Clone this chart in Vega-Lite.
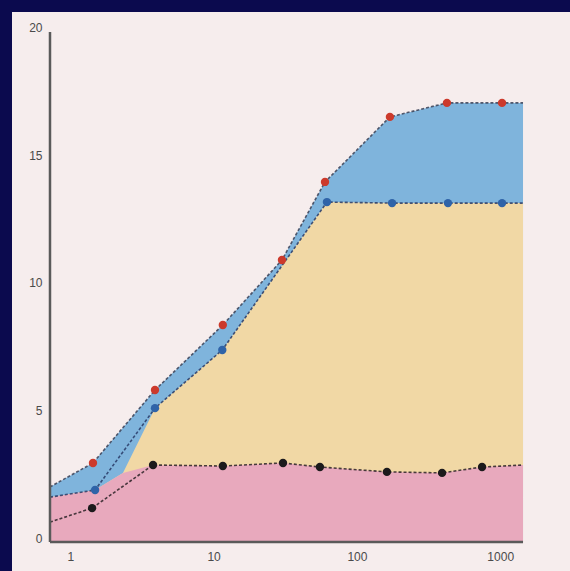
{
  "$schema": "https://vega.github.io/schema/vega-lite/v6.json",
  "width": 558,
  "height": 559,
  "autosize": {"type": "none"},
  "padding": {"top": 12, "left": 12, "right": 0, "bottom": 0},
  "background": "#0b0a4e",
  "config": {
    "view": {"stroke": null, "fill": "#f6eded"},
    "axis": {"labelFont": "Liberation Sans", "labelFontSize": 12, "labelColor": "#4a4a4a", "grid": false}
  },
  "datasets": {
    "fills": [
      {"layer": "blue", "x": 0.7218, "y": 2.16},
      {"layer": "blue", "x": 1.44, "y": 3.10},
      {"layer": "blue", "x": 3.90, "y": 5.96},
      {"layer": "blue", "x": 11.6, "y": 8.51},
      {"layer": "blue", "x": 30.0, "y": 11.06},
      {"layer": "blue", "x": 59.9, "y": 14.12},
      {"layer": "blue", "x": 170, "y": 16.67},
      {"layer": "blue", "x": 425, "y": 17.22},
      {"layer": "blue", "x": 1030, "y": 17.22},
      {"layer": "blue", "x": 1443, "y": 17.22},
      {"layer": "yellow", "x": 0.7218, "y": 1.76},
      {"layer": "yellow", "x": 1.49, "y": 2.04},
      {"layer": "yellow", "x": 2.33, "y": 2.71},
      {"layer": "yellow", "x": 3.90, "y": 5.25},
      {"layer": "yellow", "x": 11.5, "y": 7.53},
      {"layer": "yellow", "x": 61.8, "y": 13.33},
      {"layer": "yellow", "x": 176, "y": 13.29},
      {"layer": "yellow", "x": 432, "y": 13.29},
      {"layer": "yellow", "x": 1030, "y": 13.29},
      {"layer": "yellow", "x": 1443, "y": 13.29},
      {"layer": "pink", "x": 0.7218, "y": 1.76},
      {"layer": "pink", "x": 1.49, "y": 2.04},
      {"layer": "pink", "x": 2.33, "y": 2.71},
      {"layer": "pink", "x": 3.78, "y": 3.02},
      {"layer": "pink", "x": 11.6, "y": 2.98},
      {"layer": "pink", "x": 30.5, "y": 3.10},
      {"layer": "pink", "x": 55.2, "y": 2.94},
      {"layer": "pink", "x": 162, "y": 2.75},
      {"layer": "pink", "x": 393, "y": 2.71},
      {"layer": "pink", "x": 747, "y": 2.94},
      {"layer": "pink", "x": 1443, "y": 3.02}
    ],
    "series": [
      {"series": "red", "x": 0.7218, "y": 2.16},
      {"series": "red", "x": 1.44, "y": 3.10},
      {"series": "red", "x": 3.90, "y": 5.96},
      {"series": "red", "x": 11.6, "y": 8.51},
      {"series": "red", "x": 30.0, "y": 11.06},
      {"series": "red", "x": 59.9, "y": 14.12},
      {"series": "red", "x": 170, "y": 16.67},
      {"series": "red", "x": 425, "y": 17.22},
      {"series": "red", "x": 1030, "y": 17.22},
      {"series": "red", "x": 1443, "y": 17.22},
      {"series": "blue", "x": 0.7218, "y": 1.76},
      {"series": "blue", "x": 1.49, "y": 2.04},
      {"series": "blue", "x": 3.90, "y": 5.25},
      {"series": "blue", "x": 11.5, "y": 7.53},
      {"series": "blue", "x": 61.8, "y": 13.33},
      {"series": "blue", "x": 176, "y": 13.29},
      {"series": "blue", "x": 432, "y": 13.29},
      {"series": "blue", "x": 1030, "y": 13.29},
      {"series": "blue", "x": 1443, "y": 13.29},
      {"series": "black", "x": 0.7218, "y": 0.78},
      {"series": "black", "x": 1.42, "y": 1.33},
      {"series": "black", "x": 3.78, "y": 3.02},
      {"series": "black", "x": 11.6, "y": 2.98},
      {"series": "black", "x": 30.5, "y": 3.10},
      {"series": "black", "x": 55.2, "y": 2.94},
      {"series": "black", "x": 162, "y": 2.75},
      {"series": "black", "x": 393, "y": 2.71},
      {"series": "black", "x": 747, "y": 2.94},
      {"series": "black", "x": 1443, "y": 3.02}
    ]
  },
  "layer": [
    {
      "data": {"name": "fills"},
      "transform": [{"filter": "datum.layer === 'blue'"}],
      "mark": {"type": "area", "color": "#7fb4dc", "opacity": 1},
      "encoding": {
        "x": {"field": "x", "type": "quantitative", "title": null,
              "scale": {"type": "log", "domain": [0.392, 3069.6], "nice": false},
              "axis": {"values": [1, 10, 100, 1000], "format": "d", "offset": -29, "domain": false, "ticks": false, "tickSize": 0, "labelPadding": 9, "labelFlush": false}},
        "y": {"field": "y", "type": "quantitative", "title": null, "stack": null,
              "scale": {"domain": [-1.137, 20.784], "nice": false, "zero": false},
              "axis": {"values": [0, 5, 10, 15, 20], "offset": -38, "domain": false, "ticks": false, "tickSize": 0, "labelPadding": 8, "labelOffset": -4, "labelFlush": false}},
        "y2": {"datum": 0}
      }
    },
    {
      "data": {"name": "fills"},
      "transform": [{"filter": "datum.layer === 'yellow'"}],
      "mark": {"type": "area", "color": "#f1d8a5", "opacity": 1},
      "encoding": {
        "x": {"field": "x", "type": "quantitative"},
        "y": {"field": "y", "type": "quantitative", "stack": null},
        "y2": {"datum": 0}
      }
    },
    {
      "data": {"name": "fills"},
      "transform": [{"filter": "datum.layer === 'pink'"}],
      "mark": {"type": "area", "color": "#e8a9bd", "opacity": 1},
      "encoding": {
        "x": {"field": "x", "type": "quantitative"},
        "y": {"field": "y", "type": "quantitative", "stack": null},
        "y2": {"datum": 0}
      }
    },
    {
      "data": {"name": "series"},
      "mark": {"type": "line", "strokeDash": [3, 2], "strokeWidth": 1.6, "opacity": 0.85},
      "encoding": {
        "x": {"field": "x", "type": "quantitative"},
        "y": {"field": "y", "type": "quantitative"},
        "detail": {"field": "series"},
        "color": {"field": "series", "type": "nominal", "legend": null,
                  "scale": {"domain": ["red", "blue", "black"], "range": ["#3a3f55", "#283a66", "#2a2226"]}}
      }
    },
    {
      "data": {"name": "series"},
      "transform": [{"filter": "datum.x > 1 && datum.x < 1400"}],
      "mark": {"type": "point", "filled": true, "size": 70, "opacity": 1},
      "encoding": {
        "x": {"field": "x", "type": "quantitative"},
        "y": {"field": "y", "type": "quantitative"},
        "fill": {"field": "series", "type": "nominal", "legend": null,
                 "scale": {"domain": ["red", "blue", "black"], "range": ["#cc3a2c", "#2f63a8", "#1c1a1c"]}}
      }
    },
    {
      "data": {"values": [{}]},
      "mark": {"type": "rule", "color": "#5a5a5a", "strokeWidth": 2.5},
      "encoding": {
        "x": {"datum": 0.7218},
        "y": {"datum": 0},
        "y2": {"datum": 20}
      }
    },
    {
      "data": {"values": [{}]},
      "mark": {"type": "rule", "color": "#5a5a5a", "strokeWidth": 2.5},
      "encoding": {
        "x": {"datum": 0.7218},
        "x2": {"datum": 1443},
        "y": {"datum": 0}
      }
    }
  ]
}
